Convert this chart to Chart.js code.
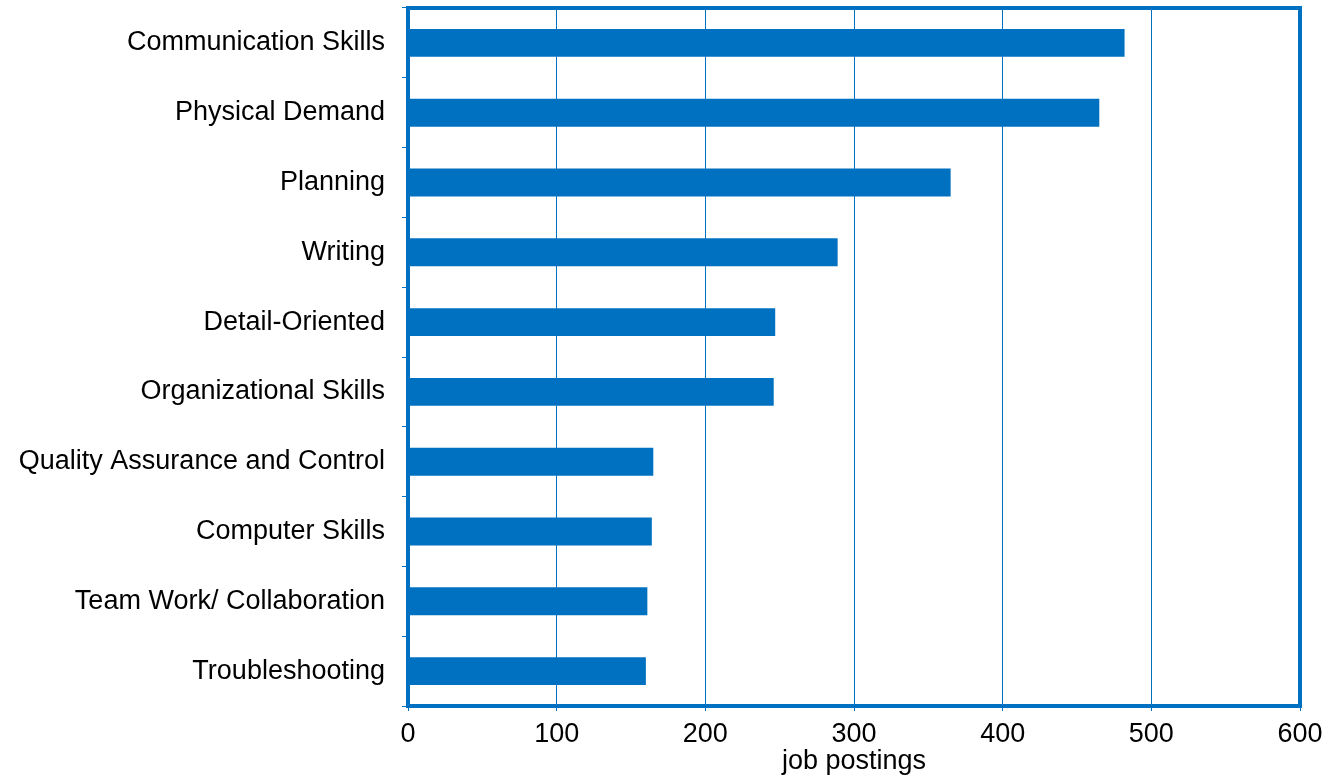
<!DOCTYPE html>
<html><head><meta charset="utf-8">
<script src="https://cdn.jsdelivr.net/npm/chart.js@4"></script>
<style>html,body{margin:0;padding:0;background:#fff}#w{width:1328px;height:778px}</style>
</head><body><div id="w"><canvas id="c"></canvas></div>
<script>
const categories=["Communication Skills","Physical Demand","Planning","Writing","Detail-Oriented","Organizational Skills","Quality Assurance and Control","Computer Skills","Team Work/ Collaboration","Troubleshooting"];
const values=[482,465,365,289,247,246,165,164,161,160];
const xTicks=[0,100,200,300,400,500,600];
const blue='#0070C0';
const frame={id:'frame',afterDraw(ch){const a=ch.chartArea,c=ch.ctx;c.save();c.strokeStyle=blue;c.lineWidth=4;c.strokeRect(a.left,a.top,a.right-a.left,a.bottom-a.top);c.restore();}};
new Chart(document.getElementById('c'),{type:'bar',
data:{labels:categories,datasets:[{data:values,backgroundColor:blue,barPercentage:0.4,categoryPercentage:1}]},
options:{indexAxis:'y',responsive:true,maintainAspectRatio:false,animation:false,
layout:{padding:{top:8,right:28,left:0,bottom:0}},
plugins:{legend:{display:false},tooltip:{enabled:false}},
scales:{
x:{min:0,max:600,afterBuildTicks(s){s.ticks=xTicks.map(v=>({value:v}));},
afterFit(s){s.height=72;s.paddingLeft=0;s.paddingRight=0;},
grid:{color:blue,lineWidth:1,tickLength:5,drawTicks:true},border:{display:false},
ticks:{color:'#000',font:{family:'Liberation Sans',size:27},padding:7,maxRotation:0},
title:{display:true,text:'job postings',color:'#000',font:{family:'Liberation Sans',size:27},padding:{top:2,bottom:0}}},
y:{afterFit(s){s.width=408;s.paddingTop=0;s.paddingBottom=0;},offset:true,
grid:{offset:true,drawOnChartArea:false,color:blue,tickLength:6},border:{display:false},
ticks:{color:'#000',font:{family:'Liberation Sans',size:27},padding:17}}
}},plugins:[frame]});
</script></body></html>
